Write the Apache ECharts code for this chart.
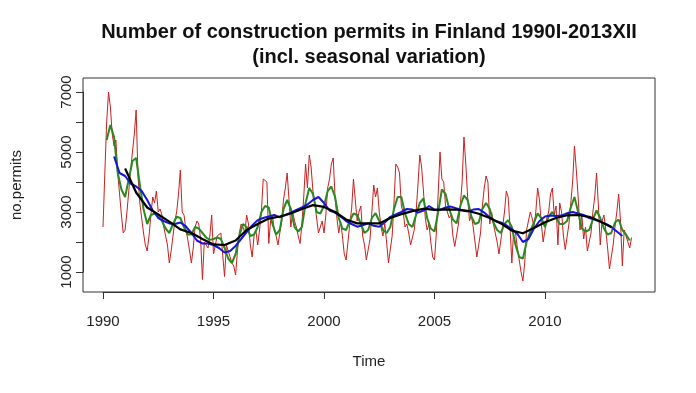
<!DOCTYPE html>
<html><head><meta charset="utf-8">
<script src="https://cdn.jsdelivr.net/npm/echarts@6/dist/echarts.min.js"></script>
<style>html,body{margin:0;padding:0;background:#fff}#c{width:696px;height:393px}</style>
</head><body><div id="c"></div>
<script>
// ---- data ----
const titleLines = ['Number of construction permits in Finland 1990I-2013XII', '(incl. seasonal variation)'];
const xTitle = 'Time';
const yTitle = 'no.permits';
const startYear = 1990;              // monthly series starts January 1990
const xTicks = [1990, 1995, 2000, 2005, 2010];
const yTickLabels = [1000, 3000, 5000, 7000];

// raw monthly numbers (red)
const permits = [
  2500,4300,6000,7000,6500,5600,5200,5400,4300,3600,2900,2300, // 1990
  2400,3000,3700,4400,5000,5600,6400,4200,3300,2800,2300,1900, // 1991
  1700,2200,2900,3500,3300,3700,3000,3100,2900,2500,2200,1900, // 1992
  1300,1700,2200,2700,3000,3600,4400,3000,2900,2400,2100,1700, // 1993
  1300,1800,2500,2700,2600,2100, 750,2000,1900,1800,2200,2900, // 1994
  1600,1900,2200,2200,2300,2300, 850,1900,1700,1500,1300,1200, // 1995
   900,1700,2300,2600,2500,2300,2900,2600,1900,1500,2200,2400, // 1996
  1900,2400,3000,4100,4100,4000,1950,2700,2900,2400,2200,1900, // 1997
  1900,2700,3400,3800,4300,3400,2500,3000,2700,2500,2200,1950, // 1998
  2600,3500,4600,3800,4900,4500,3700,3300,2800,2300,2300,2700, // 1999
  2300,2900,3800,4100,4600,4800,3500,2800,2300,2700,2200,1600, // 2000
  1400,2000,2600,3100,4100,3400,2700,3000,3200,2200,1900,1400, // 2001
  1350,2100,3000,3900,3500,3800,3000,2500,2200,2600,2000,1300, // 2002
  1250,2200,3300,4600,4500,4300,3200,3000,2500,2600,2300,1900, // 2003
  1900,2400,3000,3900,4900,4500,3700,2800,2400,2600,2000,1500, // 2004
  1400,2300,3600,5000,4100,4000,3200,3000,2800,2900,2200,1850, // 2005
  1850,2600,3200,4000,5500,4600,3500,2700,2900,2500,2000,1500, // 2006
  1500,2300,3200,3800,4200,4000,2600,3000,2600,2300,2000,1600, // 2007
  1600,2500,3000,3700,3500,2500,1300,2400,2300,1800,1400,1000, // 2008
   700,1300,2400,2700,3000,2800,2500,3000,3800,3400,2600,2000, // 2009
  2000,2800,3000,3600,3800,2900,3200,1900,3300,3000,2200,1750, // 2010
  1750,2600,3300,4000,5200,4400,3500,2400,2900,2100,2500,1700, // 2011
  1700,2300,3000,3500,4300,3200,1900,2700,2900,2400,1800,1100, // 2012
  1100,1900,2500,3000,3600,2700,1200,2400,2200,2000,1800,2150  // 2013
];

// short-window smoothing (green), every two months from March 1990
const greenStart = 1990 + 1/6;
const greenStepYears = 1/6;
const greenVals = [
  5400,5900,5500,4300,3750,
  3500,4100,4700,4800,3900,3100,
  2600,2900,2950,2900,2700,2450,
  2300,2600,2840,2800,2500,2250,
  2250,2500,2450,2300,2150,2070,
  2100,2150,2100,1800,1450,1300,
  1600,2200,2600,2500,2200,2250,
  2500,3000,3200,3150,2600,2250,
  2400,3100,3400,3100,2500,2350,
  2500,3300,3800,3600,3000,2950,
  3200,3700,3850,3500,2800,2450,
  2400,2700,2950,2900,2600,2300,
  2400,2800,2960,2700,2400,2300,
  2500,3100,3500,3500,2950,2600,
  2500,2900,3300,3450,2800,2450,
  2350,3000,3750,3600,3100,2750,
  2620,3200,3550,3400,2850,2600,
  2650,3100,3300,3100,2650,2400,
  2300,2600,2730,2500,1900,1500,
  1450,2000,2350,2650,2950,2800,
  2500,2850,3000,2800,2600,2600,
  2700,3150,3500,3000,2450,2350,
  2400,2750,3050,2800,2450,2250,
  2300,2650,2750,2400,2250,2050
];

// 12-month moving average (blue), quarterly from mid-1990
const blueStart = 1990.5;
const blueStepYears = 0.25;
const blueVals = [
  4850,4300,
  4200,3950,3850,3700,
  3400,3050,2800,2700,
  2620,2600,2650,2520,
  2300,2050,1950,1950,
  1900,1800,1650,1700,
  1870,2100,2330,2550,
  2730,2800,2850,2900,
  2820,2900,2980,3070,
  3150,3250,3400,3500,
  3300,3050,2980,2850,
  2700,2600,2510,2560,
  2620,2540,2510,2650,
  2840,2920,3000,3100,
  3080,2980,3050,3200,
  3080,3070,3150,3180,
  3120,3060,3020,3080,
  3100,2980,2820,2700,
  2650,2560,2430,2270,
  2000,2100,2450,2700,
  2850,2880,2870,2880,
  2960,3000,2950,2900,
  2800,2750,2670,2600,
  2500,2350,2200
];

// long trend (black), half-yearly from 1991
const blackStart = 1991.0;
const blackStepYears = 0.5;
const blackVals = [
  4450,3650, 3150,2920, 2680,2420, 2300,2100, 1920,1900,
  2050,2400, 2600,2780, 2850,2950, 3100,3230, 3170,3000,
  2750,2620, 2620,2620, 2800,2930, 3030,3110, 3070,3090,
  3080,3040, 2940,2800, 2620,2380, 2290,2470, 2660,2800,
  2890,2900, 2840,2680, 2500
];

// ---- layout (pixels) ----
const box = {left: 83, right: 655, top: 78, bottom: 292};
const tick0px = 103, tick1px = 545;      // x of 1990 and 2010
const yTick0px = 272, yTick1px = 92;     // y of 1000 and 7000
const pxPerYear = (tick1px - tick0px) / 20;
const pxPerUnit = (yTick0px - yTick1px) / 6000;
const xMin = 1990 - (tick0px - box.left) / pxPerYear;
const xMax = 1990 + (box.right - tick0px) / pxPerYear;
const yMin = 1000 - (box.bottom - yTick0px) / pxPerUnit;
const yMax = 1000 + (yTick0px - box.top) / pxPerUnit;
const centerX = (box.left + box.right) / 2;

const toPairs = (start, step, vals) => vals.map((v, i) => [start + i * step, v]);
const redData = toPairs(startYear, 1/12, permits);
const greenData = toPairs(greenStart, greenStepYears, greenVals);
const blueData = toPairs(blueStart, blueStepYears, blueVals);
const blackData = toPairs(blackStart, blackStepYears, blackVals);

const FONT = '"Liberation Sans", Arial, sans-serif';
const chart = echarts.init(document.getElementById('c'), null, {renderer: 'canvas'});
const lineSeries = (name, data, color, width, z) => ({
  name, type: 'line', data, xAxisIndex: 0, yAxisIndex: 0, showSymbol: false,
  symbol: 'none', smooth: false, z, lineStyle: {color, width}, animation: false, silent: true
});
chart.setOption({
  animation: false,
  backgroundColor: '#fff',
  grid: [
    {left: box.left, top: box.top, width: box.right - box.left, height: box.bottom - box.top,
     show: true, borderColor: '#333', borderWidth: 1, backgroundColor: 'transparent'},
    {left: tick0px, top: yTick1px, width: tick1px - tick0px, height: yTick0px - yTick1px, show: false}
  ],
  xAxis: [
    {gridIndex: 0, type: 'value', min: xMin, max: xMax, show: false},
    {gridIndex: 1, type: 'value', min: 1990, max: 2010, interval: 5, offset: box.bottom - yTick0px,
     axisLine: {show: true, lineStyle: {color: '#333', width: 1}},
     axisTick: {show: true, length: 7, lineStyle: {color: '#333', width: 1}},
     splitLine: {show: false},
     axisLabel: {show: true, fontSize: 15, fontFamily: FONT, color: '#222', margin: 22,
       formatter: v => xTicks.includes(v) ? String(v) : ''}}
  ],
  yAxis: [
    {gridIndex: 0, type: 'value', min: yMin, max: yMax, show: false},
    {gridIndex: 1, type: 'value', min: 1000, max: 7000, interval: 1000, offset: tick0px - box.left,
     axisLine: {show: true, lineStyle: {color: '#333', width: 1}},
     axisTick: {show: true, length: 7, lineStyle: {color: '#333', width: 1}},
     splitLine: {show: false},
     axisLabel: {show: true, fontSize: 15, fontFamily: FONT, color: '#222', rotate: 90, margin: 9,
       formatter: v => yTickLabels.includes(v) ? String(v) : ''}}
  ],
  graphic: [
    {type: 'text', x: centerX, y: 32, style: {text: titleLines[0], font: 'bold 20px ' + FONT, fill: '#111', textAlign: 'center', textVerticalAlign: 'middle'}},
    {type: 'text', x: centerX, y: 57, style: {text: titleLines[1], font: 'bold 20px ' + FONT, fill: '#111', textAlign: 'center', textVerticalAlign: 'middle'}},
    {type: 'text', x: centerX, y: 362, style: {text: xTitle, font: '15px ' + FONT, fill: '#222', textAlign: 'center', textVerticalAlign: 'middle'}},
    {type: 'text', x: 17, y: 185, rotation: Math.PI / 2, style: {text: yTitle, font: '15px ' + FONT, fill: '#222', textAlign: 'center', textVerticalAlign: 'middle'}}
  ],
  series: [
    lineSeries('permits', redData, '#cc1f1f', 1, 2),
    lineSeries('short', greenData, '#2a8a22', 2, 3),
    lineSeries('ma12', blueData, '#1515dd', 2, 4),
    lineSeries('trend', blackData, '#000000', 2.2, 5)
  ]
});
</script></body></html>
